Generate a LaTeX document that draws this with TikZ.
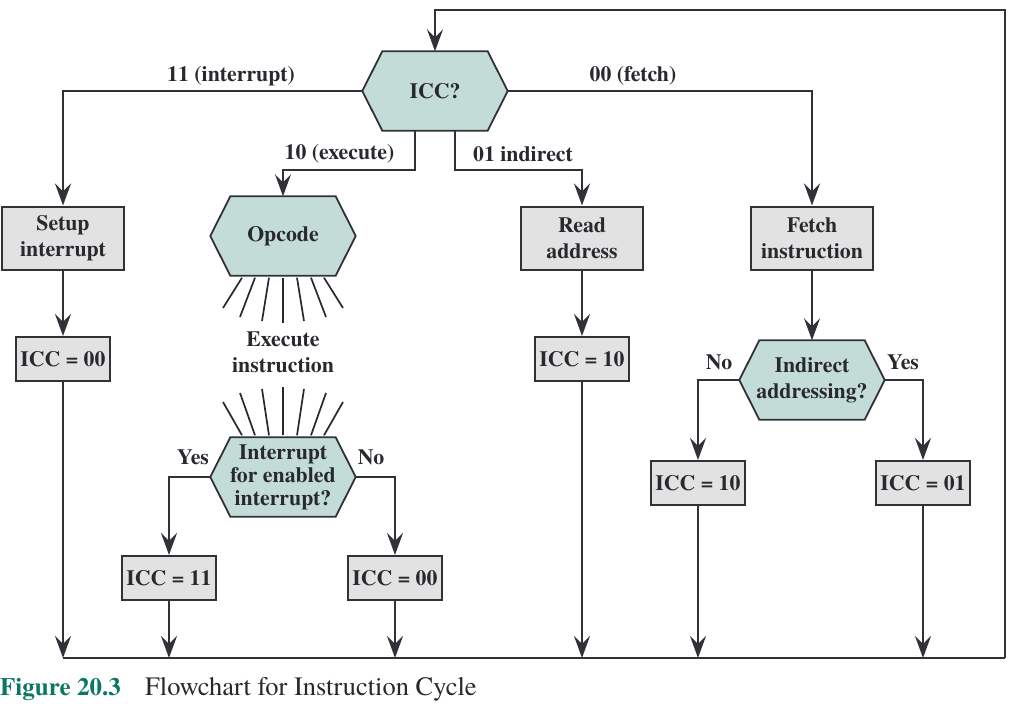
\documentclass[tikz,border=0pt]{standalone}
\usepackage{fontspec}
\setmainfont{texgyretermes}[Extension=.otf, UprightFont=*-regular, BoldFont=*-bold, ItalicFont=*-italic, BoldItalicFont=*-bolditalic]
\usetikzlibrary{arrows.meta}
\pgfdeclarelayer{bg}
\pgfsetlayers{bg,main}
\definecolor{ln}{RGB}{48,50,56}
\definecolor{hexc}{RGB}{196,220,216}
\definecolor{boxc}{RGB}{226,226,226}
\definecolor{txt}{RGB}{40,40,46}
\definecolor{teal}{RGB}{12,118,100}
\tikzset{
  lbl/.style={font=\fontsize{21.8}{24}\selectfont\bfseries, text=txt, inner sep=0pt, align=center},
  boxn/.style={lbl, draw=ln, line width=2pt, fill=boxc, minimum width=#1, minimum height=63pt},
  smallbox/.style={lbl, draw=ln, line width=2pt, fill=boxc, minimum width=94pt, minimum height=44pt},
  hexn/.style={lbl, minimum width=145pt, minimum height=79pt},
  hexfill/.style={draw=ln, line width=1.8pt, fill=hexc, line join=miter},
  conn/.style={draw=ln, line width=2pt},
  arr/.style={conn, -{Stealth[length=22pt,width=16pt,inset=8pt]}},
  ray/.style={draw=txt, line width=1.7pt},
  captxt/.style={inner sep=0pt, anchor=west, font=\fontsize{26.5}{28}\selectfont}
}
\newcommand{\hexbg}[1]{\begin{pgfonlayer}{bg}\path[hexfill] (#1.west) -- ([xshift=20pt]#1.north west) -- ([xshift=-20pt]#1.north east) -- (#1.east) -- ([xshift=-20pt]#1.south east) -- ([xshift=20pt]#1.south west) -- cycle;\end{pgfonlayer}}
\begin{document}
\begin{tikzpicture}[x=1pt,y=-1pt]
\useasboundingbox (0,0) rectangle (1010,704);
% hexagons
\node[hexn] (icc) at (435,91) {ICC?};
\hexbg{icc}
\node[hexn] (opc) at (283,236) {Opcode};
\hexbg{opc}
\node[hexn] (intr) at (283,477) {Interrupt\\[-1pt]for enabled\\[-1pt]interrupt?};
\hexbg{intr}
\node[hexn] (ind) at (812,380) {Indirect\\[2pt]addressing?};
\hexbg{ind}
% boxes
\node[boxn=122pt] (setup) at (63,238) {Setup\\[2pt]interrupt};
\node[boxn=122pt] (read) at (582,238) {Read\\[2pt]address};
\node[boxn=122pt] (fetch) at (812,238) {Fetch\\[2pt]instruction};
\node[smallbox] (a00) at (63,359) {ICC = 00};
\node[smallbox] (a10) at (582,359) {ICC = 10};
\node[smallbox] (a11) at (169,578) {ICC = 11};
\node[smallbox] (b00) at (395,578) {ICC = 00};
\node[smallbox] (b10) at (698,483) {ICC = 10};
\node[smallbox] (a01) at (923,483) {ICC = 01};
% execute text
\node[lbl] (exe) at (283,352) {Execute\\[2pt]instruction};
% coordinates
\coordinate (bl) at (63,658);
\coordinate (br) at (1005,658);
\coordinate (tr) at (1005,10);
\coordinate (j1) at (283,170);
\coordinate (j2) at (582,170);
% connectors from ICC?
\draw[arr] (icc.west) -| (setup.north);
\draw[arr] (icc.east) -| (fetch.north);
\draw[arr] ([xshift=-20pt]icc.south) |- (j1) -- (opc.north);
\draw[arr] ([xshift=20pt]icc.south) |- (j2) -- (read.north);
\node[lbl] (l11) at (231,76) {11 (interrupt)};
\node[lbl] (l00) at (633,76) {00 (fetch)};
\node[lbl] (l10) at (339.5,154) {10 (execute)};
\node[lbl] (l01) at (523,154) {01 indirect};
% vertical chains
\draw[arr] (setup.south) -- (a00.north);
\draw[arr] (read.south) -- (a10.north);
\draw[arr] (fetch.south) -- (ind.north);
\draw[arr] (a00.south) -- (bl);
\draw[arr] (a10.south) -- (a10.south |- bl);
% rays
\foreach \t/\b/\e in {-41/-60/308, -28/-43/317, -14/-21/321, 0/0/323, 14/21/321, 28/43/317, 41/60/308}{
  \draw[ray] ([xshift=\t pt, yshift=-2pt]opc.south) -- ([xshift=\b pt]opc.south |- 0,\e);
  \draw[ray] ([xshift=\t pt, yshift=2pt]intr.north) -- ([xshift=\b pt]intr.north |- 0,{710-\e});
}
% interrupt decision
\draw[arr] (intr.west) -| (a11.north);
\draw[arr] (intr.east) -| (b00.north);
\node[lbl] (yes1) at (193,457) {Yes};
\node[lbl] (no1) at (371,457) {No};
\draw[arr] (a11.south) -- (a11.south |- bl);
\draw[arr] (b00.south) -- (b00.south |- bl);
% indirect decision
\draw[arr] (ind.west) -| (b10.north);
\draw[arr] (ind.east) -| (a01.north);
\node[lbl] (no2) at (719,362) {No};
\node[lbl] (yes2) at (903,362) {Yes};
\draw[arr] (b10.south) -- (b10.south |- bl);
\draw[arr] (a01.south) -- (a01.south |- bl);
% return loop
\draw[conn] (bl) -- (br);
\draw[arr] (br) -- (tr) -| (icc.north);
% caption
\node[captxt, text=teal, font=\fontsize{25}{28}\selectfont\bfseries] (fig) at (0,689) {Figure 20.3};
\node[captxt, text=txt] (ttl) at (145,689) {Flowchart for Instruction Cycle};
\end{tikzpicture}
\end{document}
